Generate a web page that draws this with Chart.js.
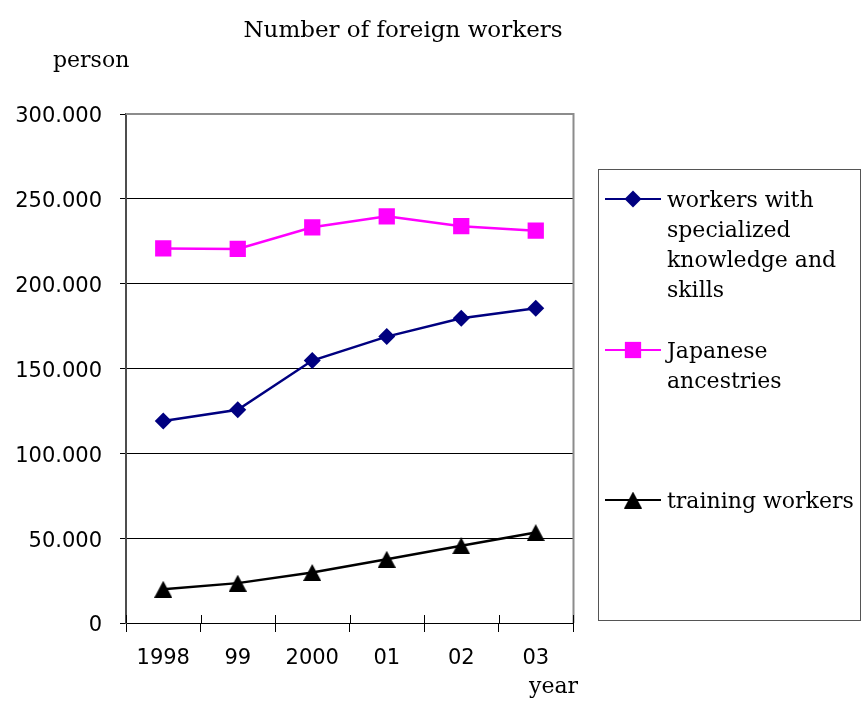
<!DOCTYPE html>
<html>
<head>
<meta charset="utf-8">
<title>Number of foreign workers</title>
<script src="https://cdn.jsdelivr.net/npm/chart.js@4/dist/chart.umd.min.js"></script>
<style>
  html, body { margin: 0; padding: 0; background: #fff; }
  #wrap { width: 861px; height: 704px; position: relative; }
</style>
</head>
<body>
<div id="wrap"><canvas id="chart" width="861" height="704"></canvas></div>
<script>
// Years on the horizontal axis
const years = ['1998', '99', '2000', '01', '02', '03'];

// Number of workers by status of residence (persons)
const specialized = [119000, 125700, 154700, 168800, 179600, 185500];
const nikkei = [220800, 220500, 233200, 239700, 233900, 231200];
const trainees = [19900, 23500, 29800, 37600, 45500, 53300];

// Series names and how they wrap in the legend box
const seriesNames = [
  'workers with specialized knowledge and skills',
  'Japanese ancestries',
  'training workers'
];
const legendLines = [
  ['workers with', 'specialized', 'knowledge and', 'skills'],
  ['Japanese', 'ancestries'],
  ['training workers']
];

// Value-axis ticks
const yTicks = [0, 50000, 100000, 150000, 200000, 250000, 300000];
const yTickLabels = ['0', '50.000', '100.000', '150.000', '200.000', '250.000', '300.000'];

const chartTitle = 'Number of foreign workers';
const yUnit = 'person';
const xUnit = 'year';

const SERIF = '"DejaVu Serif", "Liberation Serif", serif';
const SANS = '"DejaVu Sans", "Liberation Sans", sans-serif';

// Solid triangle marker centred on its box
function triangleMarker(w, h, color) {
  const c = document.createElement('canvas');
  c.width = w; c.height = h;
  const g = c.getContext('2d');
  g.fillStyle = color;
  g.beginPath();
  g.moveTo(w / 2, 0);
  g.lineTo(w, h);
  g.lineTo(0, h);
  g.closePath();
  g.fill();
  return c;
}
const triangle = triangleMarker(18, 17, '#000000');

// Frame, unit labels, title and the boxed legend
const decorations = {
  id: 'decorations',
  beforeDatasetsDraw(chart) {
    const { ctx, chartArea: a, scales } = chart;
    ctx.save();
    // grey frame on top and right
    ctx.strokeStyle = '#8c8c8c';
    ctx.lineWidth = 2;
    ctx.beginPath();
    ctx.moveTo(a.left, a.top);
    ctx.lineTo(a.right + 0.5, a.top);
    ctx.lineTo(a.right + 0.5, a.bottom);
    ctx.stroke();
    // category tick marks reaching into the plot
    const xs = scales.x;
    const half = (xs.getPixelForValue(1) - xs.getPixelForValue(0)) / 2;
    ctx.strokeStyle = '#000';
    ctx.lineWidth = 1;
    ctx.beginPath();
    for (let i = 0; i <= years.length; i++) {
      const px = Math.round(xs.getPixelForValue(0) - half + i * 2 * half) + 0.5;
      ctx.moveTo(px, a.bottom);
      ctx.lineTo(px, a.bottom - 8);
    }
    ctx.stroke();
    ctx.restore();
  },
  afterDraw(chart) {
    const { ctx } = chart;
    ctx.save();
    ctx.fillStyle = '#000';
    ctx.textBaseline = 'alphabetic';

    ctx.font = '23px ' + SERIF;
    ctx.textAlign = 'center';
    ctx.fillText(chartTitle, 403, 37);

    ctx.font = '22px ' + SERIF;
    ctx.textAlign = 'left';
    ctx.fillText(yUnit, 53, 67);
    ctx.fillText(xUnit, 529, 693);

    // legend box
    const box = { x: 598.5, y: 169.5, w: 262, h: 451 };
    ctx.strokeStyle = '#555';
    ctx.lineWidth = 1;
    ctx.strokeRect(box.x, box.y, box.w, box.h);

    const rowY = [199, 350, 500];
    chart.data.datasets.forEach((ds, i) => {
      const y = rowY[i];
      ctx.strokeStyle = ds.borderColor;
      ctx.lineWidth = 2;
      ctx.beginPath();
      ctx.moveTo(605, y);
      ctx.lineTo(661, y);
      ctx.stroke();
      ctx.fillStyle = ds.pointBackgroundColor;
      Chart.helpers.drawPoint(ctx, {
        pointStyle: ds.pointStyle,
        radius: ds.pointRadius,
        rotation: 0,
        borderWidth: 0
      }, 633, y);
      ctx.fillStyle = '#000';
      ctx.font = '22px ' + SERIF;
      legendLines[i].forEach((line, k) => {
        ctx.fillText(line, 667, y + 8 + k * 30);
      });
    });
    ctx.restore();
  }
};

new Chart(document.getElementById('chart'), {
  type: 'line',
  data: {
    labels: years,
    datasets: [
      {
        label: seriesNames[0],
        data: specialized,
        borderColor: '#000080',
        backgroundColor: '#000080',
        pointBackgroundColor: '#000080',
        pointBorderWidth: 0,
        pointStyle: 'rectRot',
        pointRadius: 8.5,
        borderWidth: 2.5
      },
      {
        label: seriesNames[1],
        data: nikkei,
        borderColor: '#ff00ff',
        backgroundColor: '#ff00ff',
        pointBackgroundColor: '#ff00ff',
        pointBorderWidth: 0,
        pointStyle: 'rect',
        pointRadius: 11.5,
        borderWidth: 2.5
      },
      {
        label: seriesNames[2],
        data: trainees,
        borderColor: '#000000',
        backgroundColor: '#000000',
        pointBackgroundColor: '#000000',
        pointBorderWidth: 0,
        pointStyle: triangle,
        pointRadius: 9,
        borderWidth: 2.5
      }
    ]
  },
  options: {
    responsive: false,
    animation: false,
    devicePixelRatio: 1,
    layout: { padding: { top: 114, right: 288, left: 0, bottom: 0 } },
    plugins: {
      legend: { display: false },
      title: { display: false },
      tooltip: { enabled: false }
    },
    elements: { line: { tension: 0 } },
    scales: {
      x: {
        offset: true,
        afterFit(scale) { scale.height = 81; },
        grid: {
          offset: true,
          drawOnChartArea: false,
          color: '#000',
          tickLength: 9,
          tickColor: '#000'
        },
        border: { color: '#000', width: 1 },
        ticks: {
          color: '#000',
          padding: 14,
          font: { family: SANS, size: 21 },
          maxRotation: 0,
          autoSkip: false
        }
      },
      y: {
        min: 0,
        max: 300000,
        afterFit(scale) { scale.width = 126; },
        afterBuildTicks(scale) {
          scale.ticks = yTicks.map(v => ({ value: v }));
        },
        grid: {
          color: ctx => (ctx.tick && ctx.tick.value === 300000) ? '#8c8c8c' : '#000',
          lineWidth: 1,
          tickLength: 6,
          tickColor: '#000'
        },
        border: { color: '#4d4d4d', width: 2 },
        ticks: {
          color: '#000',
          padding: 18,
          labelOffset: 3,
          font: { family: SANS, size: 21 },
          callback: (v) => yTickLabels[yTicks.indexOf(v)]
        }
      }
    }
  },
  plugins: [decorations]
});
</script>
</body>
</html>
